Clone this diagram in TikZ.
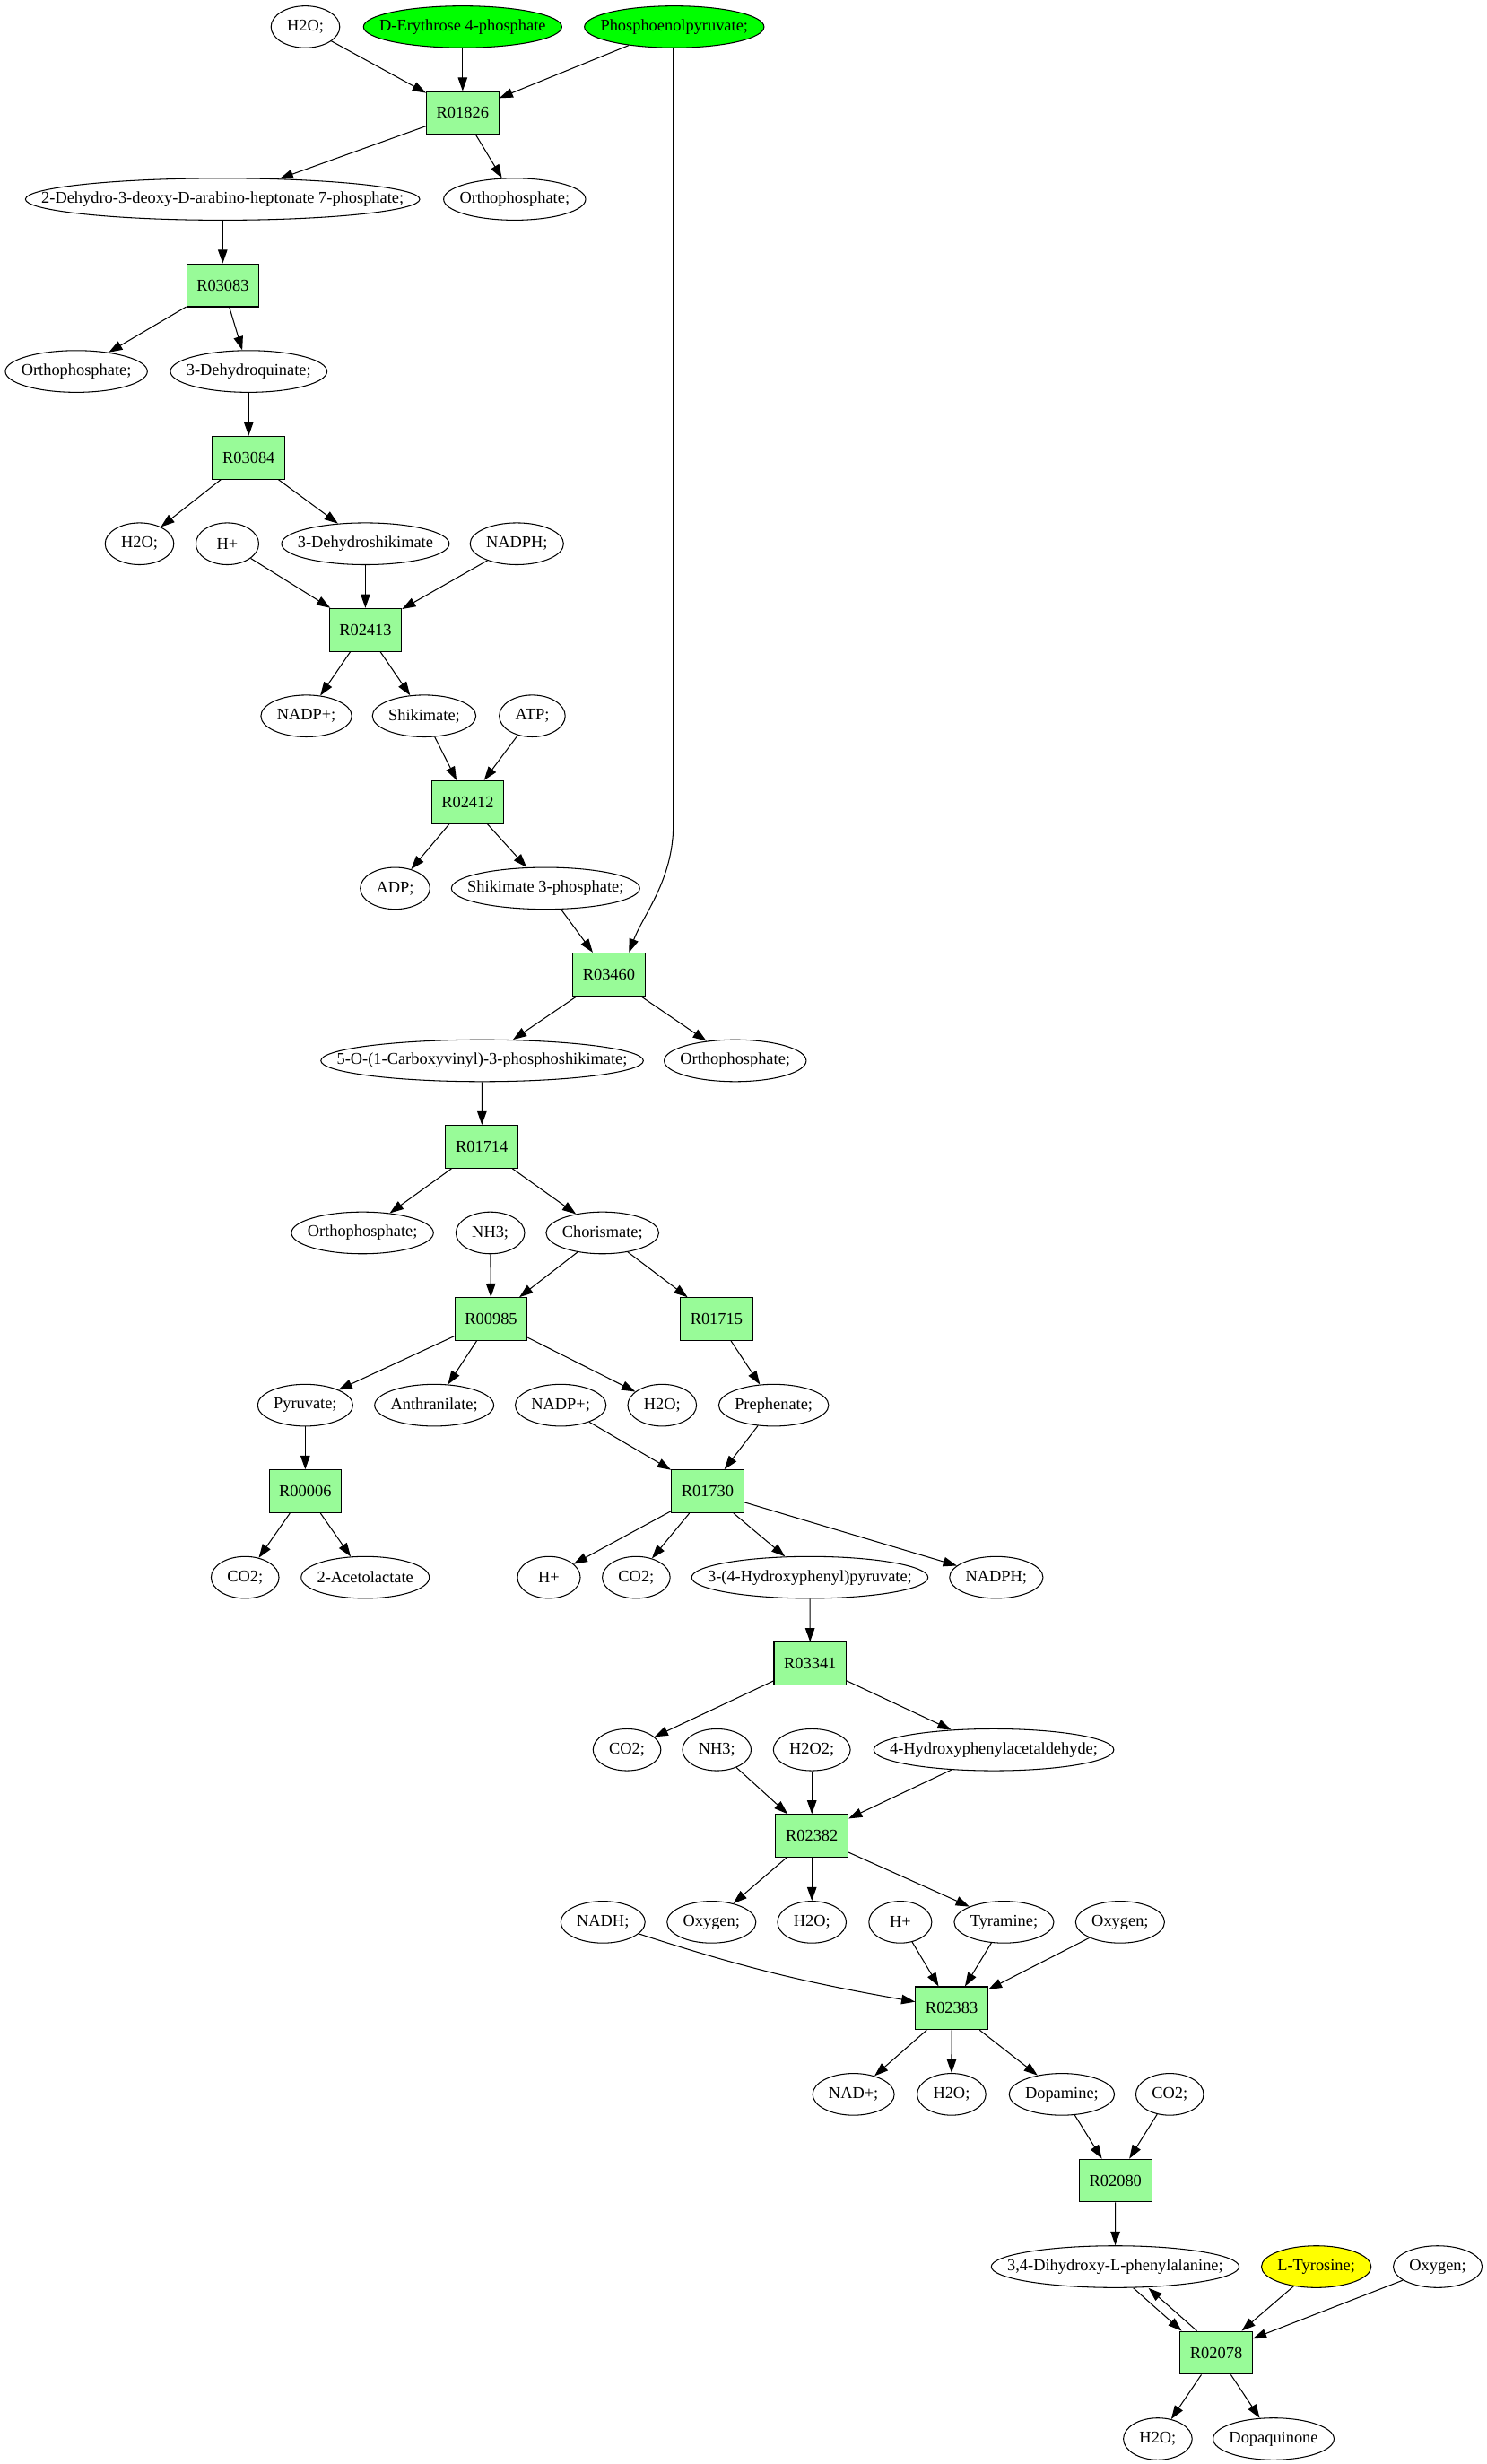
\documentclass[tikz,border=0pt]{standalone}
\usepackage{fontspec}
\setmainfont{Liberation Serif}
\usetikzlibrary{shapes.geometric,arrows.meta,calc}
\definecolor{rxnfill}{HTML}{98FB98}
\definecolor{srcfill}{HTML}{00FF00}
\definecolor{tgtfill}{HTML}{FFFF00}
\newcommand\nfnt{\fontsize{10.5}{12}\selectfont}
\newcommand\metnode[4][]{%
  \node[rectangle,inner sep=0pt,font=\nfnt] (w#2) at (#3) {\phantom{#4}};
  \path let \p1=($(w#2.east)-(w#2.west)$), \n1={max(40,\x1+20)} in
    node[met,minimum width=\n1,#1] (#2) at (#3) {#4};}
\newcommand\rxnnode[3]{\node[rbox] (#1) at (#2) {#3};}
\begin{document}
\begin{tikzpicture}[x=1pt,y=-1pt,
 met/.style={ellipse,draw,line width=0.6pt,inner xsep=-150pt,inner ysep=-20pt,minimum height=26.6pt,font=\nfnt},
 rbox/.style={rectangle,draw,fill=rxnfill,line width=0.6pt,minimum width=46pt,minimum height=27.3pt,inner sep=0pt,font=\nfnt},
 arr/.style={-{Triangle[length=8.7pt,width=6pt]},line width=0.6pt}]
\useasboundingbox (0,0) rectangle (946,1568.3);
\metnode{h2oA}{194.4,17.1}{H2O;}
\metnode[fill=srcfill]{e4p}{294.5,17.1}{D-Erythrose 4-phosphate}
\metnode[fill=srcfill]{pep}{429.2,17.1}{Phosphoenolpyruvate;}
\rxnnode{R01826}{294.5,71.9}{R01826}
\metnode{dahp}{141.7,126.8}{2-Dehydro-3-deoxy-D-arabino-heptonate 7-phosphate;}
\metnode{orthoA}{327.6,126.8}{Orthophosphate;}
\rxnnode{R03083}{141.8,181.6}{R03083}
\metnode{orthoB}{48.6,236.4}{Orthophosphate;}
\metnode{dhq}{158.3,236.4}{3-Dehydroquinate;}
\rxnnode{R03084}{158.3,291.3}{R03084}
\metnode{h2oB}{88.8,346.1}{H2O;}
\metnode{hA}{144.7,346.1}{H+}
\metnode{dhs}{232.6,346.1}{3-Dehydroshikimate}
\metnode{nadphA}{329,346.1}{NADPH;}
\rxnnode{R02413}{232.6,400.9}{R02413}
\metnode{nadpA}{195,455.7}{NADP+;}
\metnode{shik}{270,455.7}{Shikimate;}
\metnode{atp}{338.8,455.7}{ATP;}
\rxnnode{R02412}{297.7,510.6}{R02412}
\metnode{adp}{251.5,565.4}{ADP;}
\metnode{s3p}{347.3,565.4}{Shikimate 3-phosphate;}
\rxnnode{R03460}{387.6,620.2}{R03460}
\metnode{epsp}{306.9,675.1}{5-O-(1-Carboxyvinyl)-3-phosphoshikimate;}
\metnode{orthoC}{468,675.1}{Orthophosphate;}
\rxnnode{R01714}{306.7,729.9}{R01714}
\metnode{orthoD}{230.7,784.7}{Orthophosphate;}
\metnode{nhA}{312.1,784.7}{NH3;}
\metnode{chor}{383.5,784.7}{Chorismate;}
\rxnnode{R00985}{312.6,839.6}{R00985}
\rxnnode{R01715}{456.1,839.6}{R01715}
\metnode{pyr}{194.3,894.4}{Pyruvate;}
\metnode{anth}{276.4,894.4}{Anthranilate;}
\metnode{nadpB}{356.9,894.4}{NADP+;}
\metnode{h2oC}{421.5,894.4}{H2O;}
\metnode{preph}{492.5,894.4}{Prephenate;}
\rxnnode{R00006}{194.3,949.2}{R00006}
\rxnnode{R01730}{450.4,949.2}{R01730}
\metnode{coA}{156,1004}{CO2;}
\metnode{acl}{232.5,1004}{2-Acetolactate}
\metnode{hB}{349.4,1004}{H+}
\metnode{coB}{405,1004}{CO2;}
\metnode{hpp}{515.5,1004}{3-(4-Hydroxyphenyl)pyruvate;}
\metnode{nadphB}{634.2,1004}{NADPH;}
\rxnnode{R03341}{515.7,1058.9}{R03341}
\metnode{coC}{399.1,1113.7}{CO2;}
\metnode{nhB}{456.3,1113.7}{NH3;}
\metnode{hoo}{516.8,1113.7}{H2O2;}
\metnode{hpaa}{632.6,1113.7}{4-Hydroxyphenylacetaldehyde;}
\rxnnode{R02382}{516.8,1168.5}{R02382}
\metnode{nadh}{383.8,1223.4}{NADH;}
\metnode{oxyA}{452.9,1223.4}{Oxygen;}
\metnode{h2oD}{516.8,1223.4}{H2O;}
\metnode{hC}{573.1,1223.4}{H+}
\metnode{tyra}{639.1,1223.4}{Tyramine;}
\metnode{oxyB}{713,1223.4}{Oxygen;}
\rxnnode{R02383}{605.8,1278.2}{R02383}
\metnode{nad}{543.3,1333}{NAD+;}
\metnode{h2oE}{605.7,1333}{H2O;}
\metnode{dopam}{675.9,1333}{Dopamine;}
\metnode{coD}{744.6,1333}{CO2;}
\rxnnode{R02080}{710.1,1387.9}{R02080}
\metnode{ldopa}{709.9,1442.7}{3,4-Dihydroxy-L-phenylalanine;}
\metnode[fill=tgtfill]{ltyr}{837.9,1442.7}{L-Tyrosine;}
\metnode{oxyC}{915.2,1442.7}{Oxygen;}
\rxnnode{R02078}{774.2,1497.5}{R02078}
\metnode{h2oF}{737,1552.3}{H2O;}
\metnode{dq}{810.7,1552.3}{Dopaquinone}
% edges
\draw[arr] (h2oA) -- (R01826);
\draw[arr] (e4p) -- (R01826);
\draw[arr] (pep) -- (R01826);
\coordinate (pepc) at (428.6,525);
\draw[arr] (pep.south -| pepc) -- (pepc) .. controls +(0,35) and +(9,-24) .. ([xshift=12.8pt]R03460.north);
\draw[arr] (R01826) -- (dahp);
\draw[arr] (R01826) -- (orthoA);
\draw[arr] (dahp) -- (R03083);
\draw[arr] (R03083) -- (orthoB);
\draw[arr] (R03083) -- (dhq);
\draw[arr] (dhq) -- (R03084);
\draw[arr] (R03084) -- (h2oB);
\draw[arr] (R03084) -- (dhs);
\draw[arr] (hA) -- (R02413);
\draw[arr] (dhs) -- (R02413);
\draw[arr] (nadphA) -- (R02413);
\draw[arr] (R02413) -- (nadpA);
\draw[arr] (R02413) -- (shik);
\draw[arr] (shik) -- (R02412);
\draw[arr] (atp) -- (R02412);
\draw[arr] (R02412) -- (adp);
\draw[arr] (R02412) -- (s3p);
\draw[arr] (s3p) -- (R03460);
\draw[arr] (R03460) -- (epsp);
\draw[arr] (R03460) -- (orthoC);
\draw[arr] (epsp) -- (R01714);
\draw[arr] (R01714) -- (orthoD);
\draw[arr] (R01714) -- (chor);
\draw[arr] (nhA) -- (R00985);
\draw[arr] (chor) -- (R00985);
\draw[arr] (chor) -- (R01715);
\draw[arr] (R00985) -- (pyr);
\draw[arr] (R00985) -- (anth);
\draw[arr] (R00985) -- (h2oC);
\draw[arr] (R01715) -- (preph);
\draw[arr] (pyr) -- (R00006);
\draw[arr] (nadpB) -- (R01730);
\draw[arr] (preph) -- (R01730);
\draw[arr] (R00006) -- (coA);
\draw[arr] (R00006) -- (acl);
\draw[arr] (R01730) -- (hB);
\draw[arr] (R01730) -- (coB);
\draw[arr] (R01730) -- (hpp);
\draw[arr] (R01730) -- (nadphB);
\draw[arr] (hpp) -- (R03341);
\draw[arr] (R03341) -- (coC);
\draw[arr] (R03341) -- (hpaa);
\draw[arr] (nhB) -- (R02382);
\draw[arr] (hoo) -- (R02382);
\draw[arr] (hpaa) -- (R02382);
\draw[arr] (R02382) -- (oxyA);
\draw[arr] (R02382) -- (h2oD);
\draw[arr] (R02382) -- (tyra);
\draw[arr] (nadh) to[out=-18,in=170] (R02383);
\draw[arr] (hC) -- (R02383);
\draw[arr] (tyra) -- (R02383);
\draw[arr] (oxyB) -- (R02383);
\draw[arr] (R02383) -- (nad);
\draw[arr] (R02383) -- (h2oE);
\draw[arr] (R02383) -- (dopam);
\draw[arr] (dopam) -- (R02080);
\draw[arr] (coD) -- (R02080);
\draw[arr] (R02080) -- (ldopa);
\draw[arr] ([xshift=11.6pt]ldopa.south) -- ([xshift=-22pt]R02078.north);
\draw[arr] ([xshift=-12.3pt]R02078.north) -- ([xshift=21.2pt]ldopa.south);
\draw[arr] (ltyr) -- (R02078);
\draw[arr] (oxyC) -- (R02078);
\draw[arr] (R02078) -- (h2oF);
\draw[arr] (R02078) -- (dq);
\end{tikzpicture}
\end{document}
